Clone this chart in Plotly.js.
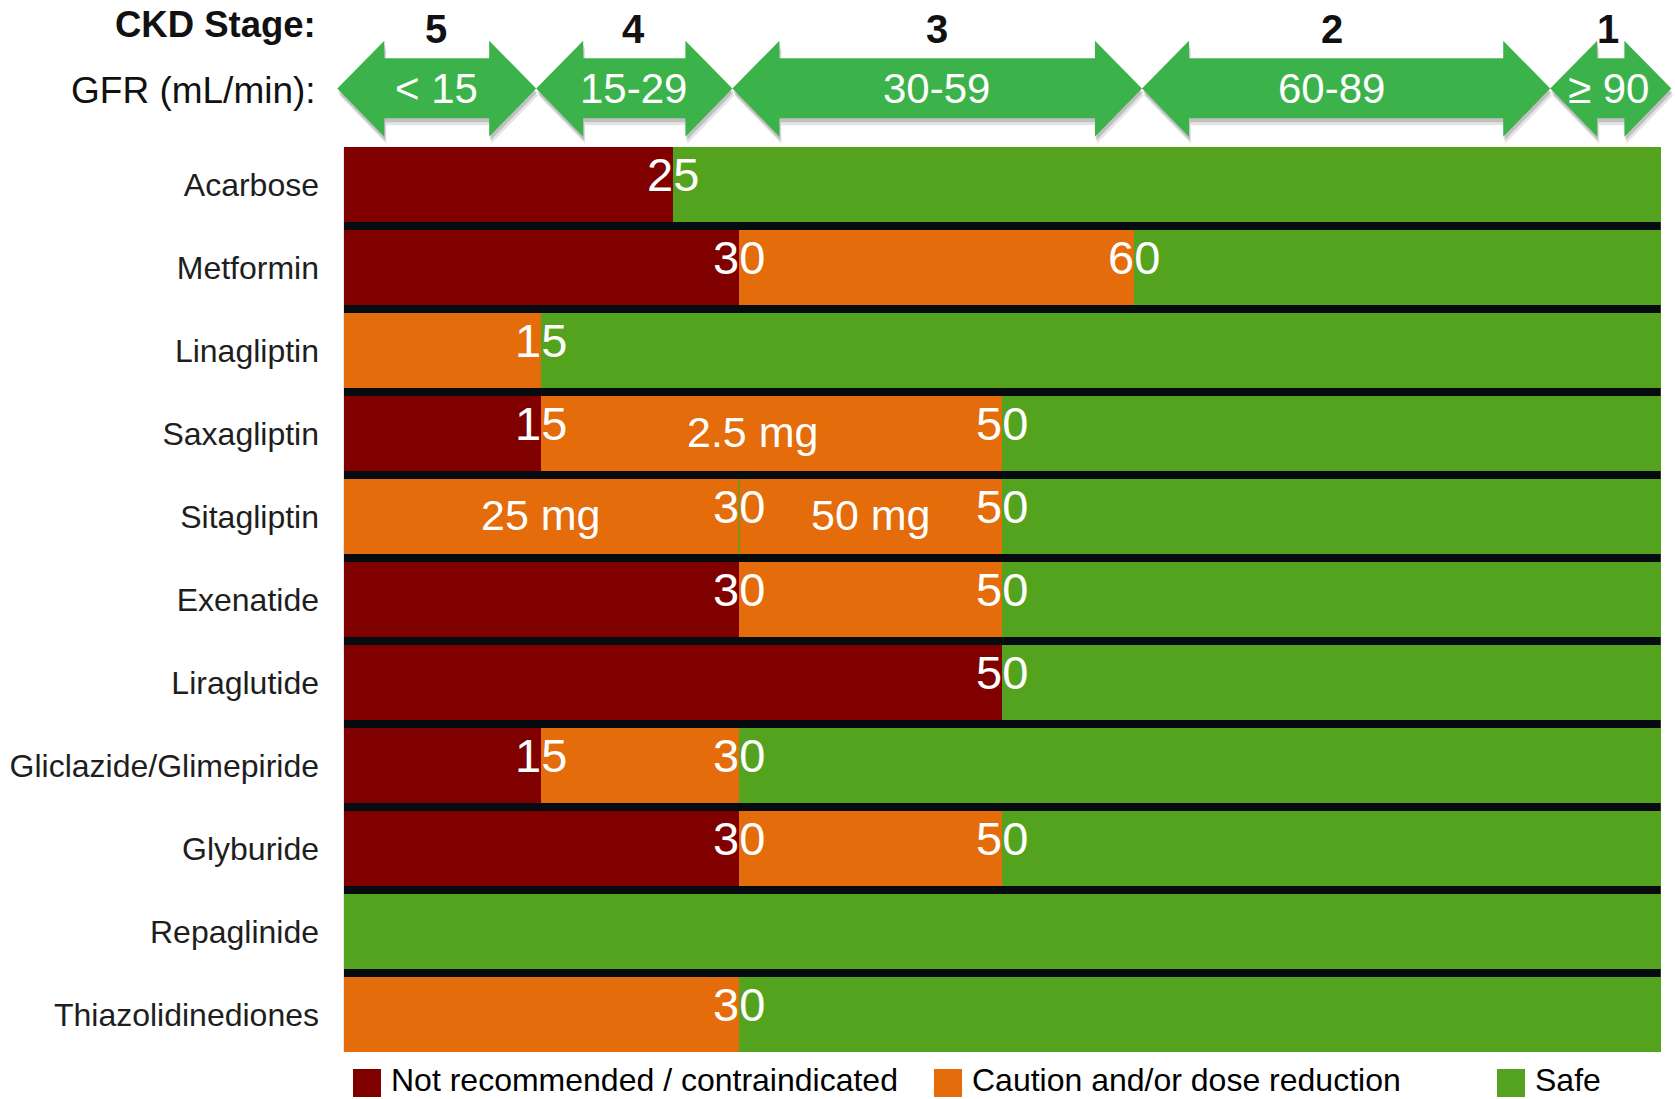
<!DOCTYPE html>
<html>
<head>
<meta charset="utf-8">
<script src="https://cdn.plot.ly/plotly-3.0.1.min.js"></script>
<style>
html,body{margin:0;padding:0;background:#fff;}
#chart{width:1675px;height:1099px;}
</style>
</head>
<body>
<div id="chart"></div>
<script>
// ---------------- DATA ----------------
const drugs = ['Acarbose','Metformin','Linagliptin','Saxagliptin','Sitagliptin','Exenatide',
  'Liraglutide','Gliclazide/Glimepiride','Glyburide','Repaglinide','Thiazolidinediones'];
// GFR (mL/min) below which the drug is not recommended / contraindicated
const notRecommendedBelow = [25, 30, 0, 15, 0, 30, 50, 15, 30, 0, 0];
// GFR (mL/min) below which caution / dose reduction applies
const cautionBelow = [25, 60, 15, 50, 50, 50, 50, 30, 50, 0, 30];
const gfrMax = 100;

// threshold labels drawn on the bars
const thresholdDrug = ['Acarbose','Metformin','Metformin','Linagliptin','Saxagliptin','Saxagliptin',
  'Sitagliptin','Sitagliptin','Exenatide','Exenatide','Liraglutide',
  'Gliclazide/Glimepiride','Gliclazide/Glimepiride','Glyburide','Glyburide','Thiazolidinediones'];
const thresholdValue = [25, 30, 60, 15, 15, 50, 30, 50, 30, 50, 50, 15, 30, 30, 50, 30];

// dose notes
const doseDrug = ['Saxagliptin','Sitagliptin','Sitagliptin'];
const doseText = ['2.5 mg','25 mg','50 mg'];
const doseFrom = [15, 0, 30];
const doseTo = [47, 30, 50];

// CKD stages
const stageName = ['5','4','3','2','1'];
const stageGfrText = ['< 15','15-29','30-59','60-89','≥ 90'];
const stageGfrLow = [0, 15, 30, 60, 90];
const stageGfrHigh = [14, 29, 60, 90, 102];
// header arrows, as drawn (GFR units)
const arrowFrom = [-0.5, 14.6, 29.5, 60.6, 91.6];
const arrowTo = [14.6, 29.5, 60.6, 91.6, 100.8];

// legend
const legendLabels = ['Not recommended / contraindicated','Caution and/or dose reduction','Safe'];

// ---------------- STYLE / LAYOUT ----------------
const FONT = 'Liberation Sans, Arial, Helvetica, sans-serif';
const C_RED = '#800000', C_ORANGE = '#e46c0a', C_GREEN = '#54a31e', C_ARROW = '#3cb34a', C_GAP = '#050b0f';
const W = 1675, H = 1099;
const M = {l: 336, r: 1, t: 147, b: 47};
const XR = [-0.6, 101.0];
const PW = W - M.l - M.r, PH = H - M.t - M.b;
const PX_PER_UNIT = PW / (XR[1] - XR[0]);
const BARGAP = 0.093;
const half = (1 - BARGAP) / 2;

function py(px) { return (H - M.b - px) / PH; }      // pixel row -> paper y
function pxX(px) { return (px - M.l) / PW; }          // pixel col -> paper x

// ---------------- TRACES ----------------
const redW = notRecommendedBelow.slice();
const orangeW = cautionBelow.map((c, i) => c - notRecommendedBelow[i]);
const greenW = cautionBelow.map(c => gfrMax - c);

function barTrace(vals, color, name) {
  return {type: 'bar', orientation: 'h', y: drugs, x: vals, name: name,
    marker: {color: color, line: {width: 0}}, showlegend: false, hoverinfo: 'skip'};
}
const data = [
  barTrace(redW, C_RED, legendLabels[0]),
  barTrace(orangeW, C_ORANGE, legendLabels[1]),
  barTrace(greenW, C_GREEN, legendLabels[2])
];

// ---------------- SHAPES ----------------
const shapes = [];
// dark separators behind the bars
shapes.push({type: 'rect', xref: 'x', yref: 'paper', x0: 0, x1: gfrMax, y0: 0, y1: 1,
  fillcolor: C_GAP, line: {width: 0}, layer: 'below'});

// thin split line between the two Sitagliptin dose bands
const sitaIdx = drugs.indexOf(doseDrug[2]);
shapes.push({type: 'line', xref: 'x', yref: 'y', x0: doseFrom[2], x1: doseFrom[2],
  y0: sitaIdx - half, y1: sitaIdx + half, line: {color: C_GREEN, width: 1.5}});

// header arrows
const A = {tip: 88.5, headTop: 40.7, headBot: 136.7, bodyTop: 58.3, bodyBot: 118.3, head: 47};
function arrowPath(a, b, dxPx, dyPx) {
  const h = A.head / PX_PER_UNIT;
  const dx = dxPx / PX_PER_UNIT;
  const pts = [[a, A.tip], [a + h, A.headTop], [a + h, A.bodyTop], [b - h, A.bodyTop], [b - h, A.headTop],
    [b, A.tip], [b - h, A.headBot], [b - h, A.bodyBot], [a + h, A.bodyBot], [a + h, A.headBot]];
  return 'M' + pts.map(p => (p[0] + dx).toFixed(4) + ',' + py(p[1] + dyPx).toFixed(5)).join('L') + 'Z';
}
for (let i = 0; i < stageName.length; i++) {
  shapes.push({type: 'path', xref: 'x', yref: 'paper', path: arrowPath(arrowFrom[i], arrowTo[i], 2, 7),
    fillcolor: 'rgba(0,0,0,0.10)', line: {width: 0}, layer: 'above'});
  shapes.push({type: 'path', xref: 'x', yref: 'paper', path: arrowPath(arrowFrom[i], arrowTo[i], 1, 4),
    fillcolor: 'rgba(0,0,0,0.16)', line: {width: 0}, layer: 'above'});
}
for (let i = 0; i < stageName.length; i++) {
  shapes.push({type: 'path', xref: 'x', yref: 'paper', path: arrowPath(arrowFrom[i], arrowTo[i], 0, 0),
    fillcolor: C_ARROW, line: {width: 0}, layer: 'above'});
}

// legend keys
const legendColors = [C_RED, C_ORANGE, C_GREEN];
const legendKeyLeft = [353, 934, 1497];
const KEY = 28, KEY_TOP = 1069;
legendLabels.forEach((lab, i) => {
  shapes.push({type: 'rect', xref: 'paper', yref: 'paper',
    x0: pxX(legendKeyLeft[i]), x1: pxX(legendKeyLeft[i] + KEY),
    y0: py(KEY_TOP + KEY), y1: py(KEY_TOP), fillcolor: legendColors[i], line: {width: 0}});
});

// ---------------- ANNOTATIONS ----------------
const annotations = [];
// header labels
annotations.push({text: '<b>CKD Stage:</b>', xref: 'paper', yref: 'paper', x: 0, xshift: -18, y: py(24),
  xanchor: 'right', yanchor: 'middle', showarrow: false, font: {family: FONT, size: 36.5, color: '#111'}});
annotations.push({text: 'GFR (mL/min):', xref: 'paper', yref: 'paper', x: 0, xshift: -18, y: py(90),
  xanchor: 'right', yanchor: 'middle', showarrow: false, font: {family: FONT, size: 37, color: '#111'}});
for (let i = 0; i < stageName.length; i++) {
  const mid = (stageGfrLow[i] + stageGfrHigh[i]) / 2;
  annotations.push({text: '<b>' + stageName[i] + '</b>', xref: 'x', yref: 'paper', x: mid, y: py(28.5),
    xanchor: 'center', yanchor: 'middle', showarrow: false, font: {family: FONT, size: 40, color: '#111'}});
  annotations.push({text: stageGfrText[i], xref: 'x', yref: 'paper', x: mid, y: py(88.5),
    xanchor: 'center', yanchor: 'middle', showarrow: false, font: {family: FONT, size: 42, color: '#fff'}});
}
// thresholds
thresholdDrug.forEach((d, i) => {
  annotations.push({text: String(thresholdValue[i]), xref: 'x', yref: 'y', x: thresholdValue[i], y: d,
    yshift: 10, xanchor: 'center', yanchor: 'middle', showarrow: false,
    font: {family: FONT, size: 47, color: '#fff'}});
});
// dose notes
doseDrug.forEach((d, i) => {
  annotations.push({text: doseText[i], xref: 'x', yref: 'y', x: (doseFrom[i] + doseTo[i]) / 2, y: d,
    yshift: 2, xanchor: 'center', yanchor: 'middle', showarrow: false,
    font: {family: FONT, size: 43, color: '#fff'}});
});
// legend text
legendLabels.forEach((lab, i) => {
  annotations.push({text: lab, xref: 'paper', yref: 'paper', x: pxX(legendKeyLeft[i] + KEY + 8), y: py(1080),
    xanchor: 'left', yanchor: 'middle', showarrow: false, font: {family: FONT, size: 32, color: '#000'}});
});

// ---------------- LAYOUT ----------------
const layout = {
  width: W, height: H,
  margin: M,
  paper_bgcolor: '#fff', plot_bgcolor: '#fff',
  barmode: 'stack', bargap: BARGAP,
  showlegend: false,
  xaxis: {range: XR, visible: false, fixedrange: true},
  yaxis: {type: 'category', categoryorder: 'array', categoryarray: drugs,
    range: [drugs.length - 1 + half, -half], showgrid: false, zeroline: false, showline: false,
    ticks: '', ticklabelstandoff: 16, automargin: false, fixedrange: true,
    tickfont: {family: FONT, size: 32, color: '#1e1e1e'}},
  shapes: shapes,
  annotations: annotations,
  font: {family: FONT}
};

Plotly.newPlot('chart', data, layout, {displayModeBar: false, staticPlot: true});
</script>
</body>
</html>
